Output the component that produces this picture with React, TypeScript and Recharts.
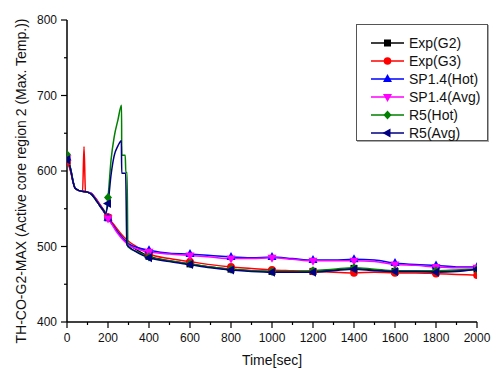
import { LineChart, Line, XAxis, YAxis, Legend } from 'recharts';

type Pt = [number, number];

const xTicks = [0, 100, 200, 300, 400, 500, 600, 700, 800, 900, 1000, 1100, 1200, 1300, 1400, 1500, 1600, 1700, 1800, 1900, 2000];
const yTicks = [400, 450, 500, 550, 600, 650, 700, 750, 800];

const expG2: Pt[] = [
  [0, 614], [10, 608], [20, 598], [30, 585], [40, 577], [60, 574], [100, 572], [120, 569], [140, 562],
  [160, 554], [180, 546], [200, 538], [220, 530], [240, 522], [260, 515], [280, 508], [300, 503],
  [350, 494], [400, 487], [500, 481], [600, 477], [700, 473], [800, 470], [900, 468], [1000, 467],
  [1100, 466], [1200, 467], [1300, 469], [1400, 471], [1500, 469], [1600, 467], [1700, 467],
  [1800, 467], [1900, 468], [2000, 470],
];

const expG3: Pt[] = [
  [0, 612], [10, 606], [20, 597], [30, 585], [40, 577], [60, 574], [76, 573], [83, 632], [90, 573],
  [100, 572], [120, 570], [140, 564], [160, 556], [180, 548], [200, 539], [220, 532], [240, 525],
  [260, 518], [280, 512], [300, 507], [350, 498], [400, 490], [500, 484], [600, 480], [700, 476],
  [800, 473], [900, 471], [1000, 469], [1100, 468], [1200, 467], [1300, 466], [1400, 465], [1500, 466],
  [1600, 465], [1700, 465], [1800, 464], [1900, 463], [2000, 462],
];

const sp14Hot: Pt[] = [
  [0, 618], [10, 611], [20, 600], [30, 586], [40, 577], [60, 574], [100, 572], [120, 570], [140, 563],
  [160, 555], [180, 547], [200, 538], [220, 530], [240, 522], [260, 515], [280, 509], [300, 504],
  [350, 498], [400, 495], [500, 491], [600, 490], [700, 488], [800, 486], [900, 485], [1000, 486],
  [1100, 484], [1200, 482], [1300, 482], [1400, 483], [1500, 482], [1600, 478], [1700, 476],
  [1800, 475], [1900, 473], [2000, 473],
];

const sp14Avg: Pt[] = [
  [0, 617], [10, 610], [20, 599], [30, 585], [40, 577], [60, 574], [100, 572], [120, 570], [140, 563],
  [160, 555], [180, 546], [200, 537], [220, 529], [240, 520], [260, 513], [280, 507], [300, 502],
  [350, 496], [400, 493], [500, 490], [600, 488], [700, 486], [800, 484], [900, 484], [1000, 485],
  [1100, 483], [1200, 481], [1300, 481], [1400, 481], [1500, 480], [1600, 476], [1700, 475],
  [1800, 473], [1900, 472], [2000, 472],
];

const r5Hot: Pt[] = [
  [0, 622], [10, 612], [20, 600], [30, 586], [40, 577], [60, 574], [100, 572], [120, 569], [140, 562],
  [160, 554], [180, 547], [188, 544], [200, 565], [215, 615], [230, 645], [248, 667], [266, 687],
  [267, 621], [284, 621], [287, 598], [293, 598], [297, 500], [300, 499], [350, 492], [400, 486],
  [500, 481], [600, 477], [700, 473], [800, 470], [900, 468], [1000, 467], [1100, 467], [1200, 468],
  [1300, 470], [1400, 472], [1500, 470], [1600, 468], [1700, 468], [1800, 468], [1900, 469], [2000, 470],
];

const r5Avg: Pt[] = [
  [0, 615], [10, 610], [20, 599], [30, 585], [40, 577], [60, 574], [100, 572], [120, 569], [140, 562],
  [160, 554], [180, 547], [188, 543], [200, 557], [215, 595], [230, 620], [248, 633], [265, 640],
  [267, 597], [286, 597], [292, 502], [300, 500], [350, 491], [400, 485], [500, 480], [600, 476],
  [700, 472], [800, 469], [900, 467], [1000, 466], [1100, 466], [1200, 466], [1300, 468], [1400, 470],
  [1500, 468], [1600, 467], [1700, 467], [1800, 466], [1900, 467], [2000, 470],
];

type Shape = 'square' | 'circle' | 'up' | 'down' | 'diamond' | 'left';

const SERIES: { name: string; data: Pt[]; color: string; shape: Shape }[] = [
  { name: 'Exp(G2)', data: expG2, color: '#000000', shape: 'square' },
  { name: 'Exp(G3)', data: expG3, color: '#ff0000', shape: 'circle' },
  { name: 'SP1.4(Hot)', data: sp14Hot, color: '#0000ff', shape: 'up' },
  { name: 'SP1.4(Avg)', data: sp14Avg, color: '#ff00ff', shape: 'down' },
  { name: 'R5(Hot)', data: r5Hot, color: '#008000', shape: 'diamond' },
  { name: 'R5(Avg)', data: r5Avg, color: '#000080', shape: 'left' },
];

const FONT = '"Liberation Sans", Arial, sans-serif';

function Marker({ shape, cx, cy, color }: { shape: Shape; cx: number; cy: number; color: string }) {
  const s = 4;
  switch (shape) {
    case 'square':
      return <rect x={cx - 3.5} y={cy - 3.5} width={7} height={7} fill={color} />;
    case 'circle':
      return <circle cx={cx} cy={cy} r={3.8} fill={color} />;
    case 'up':
      return <polygon points={`${cx},${cy - s - 1} ${cx - s - 0.5},${cy + s - 1} ${cx + s + 0.5},${cy + s - 1}`} fill={color} />;
    case 'down':
      return <polygon points={`${cx},${cy + s + 1} ${cx - s - 0.5},${cy - s + 1} ${cx + s + 0.5},${cy - s + 1}`} fill={color} />;
    case 'diamond':
      return <polygon points={`${cx},${cy - s - 0.5} ${cx + s},${cy} ${cx},${cy + s + 0.5} ${cx - s},${cy}`} fill={color} />;
    default:
      return <polygon points={`${cx - s - 1},${cy} ${cx + s - 1},${cy - s - 0.5} ${cx + s - 1},${cy + s + 0.5}`} fill={color} />;
  }
}

function XTick({ x, y, payload }: any) {
  const major = payload.value % 200 === 0;
  return (
    <g>
      <line x1={x} x2={x} y1={y} y2={y + (major ? 6 : 3)} stroke="#000" strokeWidth={1.2} />
      {major && (
        <text x={x} y={y + 20} textAnchor="middle" fontSize={12} fontFamily={FONT} fill="#111">
          {payload.value}
        </text>
      )}
    </g>
  );
}

function YTick({ x, y, payload }: any) {
  const major = payload.value % 100 === 0;
  return (
    <g>
      <line x1={x - (major ? 6 : 3)} x2={x} y1={y} y2={y} stroke="#000" strokeWidth={1.2} />
      {major && (
        <text x={x - 10} y={y + 4} textAnchor="end" fontSize={12} fontFamily={FONT} fill="#111">
          {payload.value}
        </text>
      )}
    </g>
  );
}

function LegendBox() {
  return (
    <div
      style={{
        width: 132,
        height: 117,
        border: '1px solid #555',
        boxShadow: '1px 1px 0 #aaa',
        background: '#fff',
        boxSizing: 'border-box',
        paddingTop: 9,
      }}
    >
      {SERIES.map((s) => (
        <div key={s.name} style={{ height: 18, display: 'flex', alignItems: 'center' }}>
          <svg width={52} height={18} style={{ flex: 'none' }}>
            <line x1={14} x2={47} y1={9} y2={9} stroke={s.color} strokeWidth={1.3} />
            <Marker shape={s.shape} cx={30.5} cy={9} color={s.color} />
          </svg>
          <span style={{ fontFamily: FONT, fontSize: 14, color: '#111', lineHeight: '18px' }}>{s.name}</span>
        </div>
      ))}
    </div>
  );
}

export default function App() {
  return (
    <div style={{ position: 'absolute', left: 0, top: 0, width: 495, height: 372, background: '#fff' }}>
      <LineChart width={495} height={372} margin={{ top: 20, right: 18, bottom: 20, left: 0 }}>
        <XAxis
          type="number"
          dataKey="0"
          domain={[0, 2000]}
          ticks={xTicks}
          interval={0}
          tickSize={0}
          tickMargin={0}
          tickLine={false}
          tick={<XTick />}
          height={30}
          axisLine={{ stroke: '#000', strokeWidth: 1.5 }}
          allowDataOverflow
        />
        <YAxis
          type="number"
          domain={[400, 800]}
          ticks={yTicks}
          interval={0}
          tickSize={0}
          tickMargin={0}
          tickLine={false}
          tick={<YTick />}
          width={67}
          axisLine={{ stroke: '#000', strokeWidth: 1.5 }}
          allowDataOverflow
        />
        <Legend
          layout="vertical"
          align="center"
          verticalAlign="middle"
          wrapperStyle={{ position: 'absolute', left: 356, top: 24, width: 132 }}
          content={() => <LegendBox />}
        />
        {SERIES.map((s) => (
          <Line
            key={s.name}
            data={s.data}
            dataKey="1"
            name={s.name}
            type="monotone"
            stroke={s.color}
            strokeWidth={1.5}
            isAnimationActive={false}
            activeDot={false}
            dot={(p: any) => {
              const t = p.payload[0];
              if (t % 200 !== 0) return <g key={p.index} />;
              return <Marker key={p.index} shape={s.shape} cx={p.cx} cy={p.cy} color={s.color} />;
            }}
          />
        ))}
        <text x={272} y={365} textAnchor="middle" fontSize={14} fontFamily={FONT} fill="#111">
          Time[sec]
        </text>
        <text
          x={26}
          y={181}
          transform="rotate(-90 26 181)"
          textAnchor="middle"
          fontSize={14}
          fontFamily={FONT}
          fill="#111"
        >
          TH-CO-G2-MAX (Active core region 2 (Max. Temp.))
        </text>
      </LineChart>
    </div>
  );
}
